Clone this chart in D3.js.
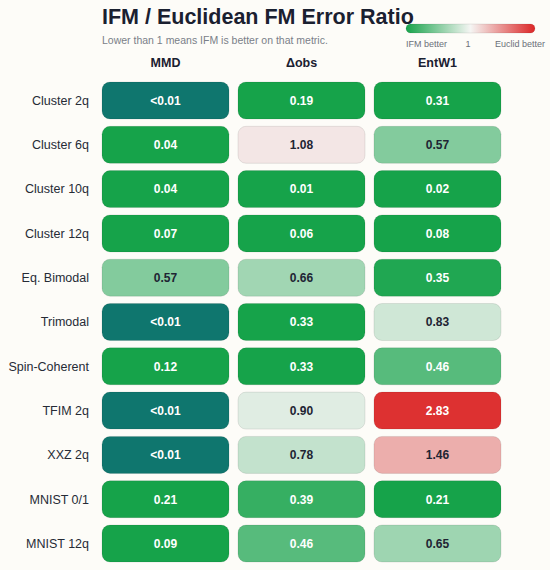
<!DOCTYPE html>
<html><head><meta charset="utf-8">
<script src="https://cdn.jsdelivr.net/npm/d3@7/dist/d3.min.js"></script>
<style>
html,body{margin:0;padding:0;background:#fdfcf8;}
svg{display:block;font-family:"Liberation Sans",Arial,Helvetica,sans-serif;}
</style></head>
<body>
<svg id="chart" width="550" height="570"></svg>
<script>
const rows = ["Cluster 2q","Cluster 6q","Cluster 10q","Cluster 12q","Eq. Bimodal","Trimodal","Spin-Coherent","TFIM 2q","XXZ 2q","MNIST 0/1","MNIST 12q"];
const metrics = ["MMD","Δobs","EntW1"];
const mmd   = [0.005,0.04,0.04,0.07,0.57,0.005,0.12,0.005,0.005,0.21,0.09];
const dobs  = [0.19,1.08,0.01,0.06,0.66,0.33,0.33,0.90,0.78,0.39,0.46];
const entw1 = [0.31,0.57,0.02,0.08,0.35,0.83,0.46,2.83,1.46,0.21,0.65];
const legendLabels = ["IFM better","1","Euclid better"];

const series = [mmd, dobs, entw1];
const cells = [];
rows.forEach((r,i)=>metrics.forEach((m,j)=>cells.push({row:r,metric:m,value:series[j][i]})));

const GREEN="#16a34a", RED="#dc2626", MID="#f5f5f3", TEAL="#0f766e";
const L = Math.log2(3);
const tScale = d3.scaleLinear().domain([-L,0,L]).range([-1,0,1]).clamp(true);
function fill(v){
  if(v<0.01) return TEAL;
  const t = tScale(Math.log2(v));
  return t<0 ? d3.interpolateRgb(MID,GREEN)(-t) : d3.interpolateRgb(MID,RED)(t);
}
function txtColor(v){
  if(v<0.01) return "#fff";
  return Math.abs(tScale(Math.log2(v)))>0.6 ? "#fff" : "#1e2433";
}
function fmt(v){ return v<0.01 ? "<0.01" : d3.format(".2f")(v); }

const svg = d3.select("#chart");
const x = d3.scaleBand().domain(metrics).range([102,501]).paddingInner(0.066).paddingOuter(0);
const y = d3.scaleBand().domain(rows).range([82,562]).paddingInner(0.165).paddingOuter(0);

svg.append("text").attr("x",102).attr("y",24).attr("font-size",21.5).attr("font-weight",700)
  .attr("fill","#1a2030").text("IFM / Euclidean FM Error Ratio");
svg.append("text").attr("x",102).attr("y",44).attr("font-size",10.5).attr("fill","#7a7f88")
  .text("Lower than 1 means IFM is better on that metric.");

// legend
const defs = svg.append("defs");
const grad = defs.append("linearGradient").attr("id","lg");
d3.range(0,1.0001,0.1).forEach(s=>{
  grad.append("stop").attr("offset",s).attr("stop-color",fill(Math.pow(2,(s*2-1)*L)));
});
const lx = d3.scaleLinear().domain([0,1]).range([406,535]);
svg.append("rect").attr("x",lx(0)).attr("y",24).attr("width",lx(1)-lx(0)).attr("height",9)
  .attr("rx",4.5).attr("fill","url(#lg)").attr("stroke","rgba(0,0,0,0.08)");
svg.append("text").attr("x",lx(0)).attr("y",47).attr("font-size",9).attr("fill","#6b7079").text(legendLabels[0]);
svg.append("text").attr("x",468).attr("y",47).attr("font-size",9).attr("fill","#6b7079").attr("text-anchor","middle").text(legendLabels[1]);
svg.append("text").attr("x",545).attr("y",47).attr("font-size",9).attr("fill","#6b7079").attr("text-anchor","end").text(legendLabels[2]);

// headers
svg.selectAll("text.hdr").data(metrics).join("text").attr("class","hdr")
  .attr("x",d=>x(d)+x.bandwidth()/2).attr("y",67).attr("text-anchor","middle")
  .attr("font-size",12.5).attr("font-weight",700).attr("fill","#1a2030").text(d=>d);

// row labels
svg.selectAll("text.rl").data(rows).join("text").attr("class","rl")
  .attr("x",89).attr("y",d=>y(d)+y.bandwidth()/2).attr("dy","0.35em").attr("text-anchor","end")
  .attr("font-size",12.5).attr("fill","#262b36").text(d=>d);

const g = svg.selectAll("g.cell").data(cells).join("g").attr("class","cell")
  .attr("transform",d=>`translate(${x(d.metric)},${y(d.row)})`);
g.append("rect").attr("width",x.bandwidth()).attr("height",y.bandwidth()).attr("rx",8)
  .attr("fill",d=>fill(d.value)).attr("stroke","rgba(0,0,0,0.09)").attr("stroke-width",1);
g.append("text").attr("x",x.bandwidth()/2).attr("y",y.bandwidth()/2).attr("dy","0.36em")
  .attr("text-anchor","middle").attr("font-size",12).attr("font-weight",700)
  .attr("fill",d=>txtColor(d.value)).text(d=>fmt(d.value));
</script>
</body></html>
